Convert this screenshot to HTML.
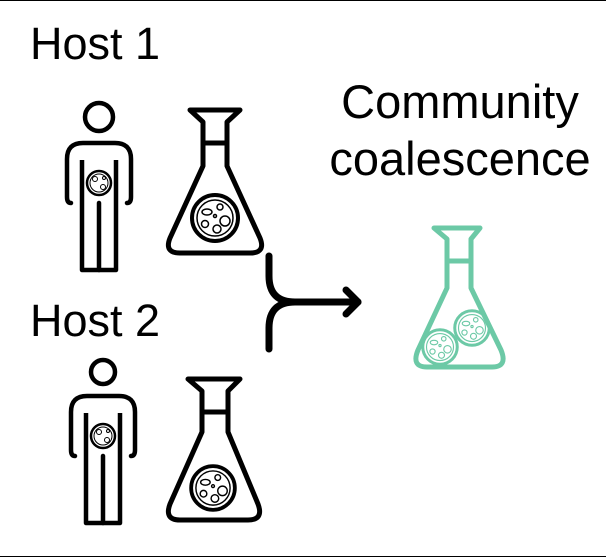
<!DOCTYPE html>
<html><head><style>
html,body{margin:0;padding:0;background:#fff;}
svg{display:block;}
text{font-family:"Liberation Sans",sans-serif;fill:#000;}
</style></head><body>
<svg width="606" height="558" viewBox="0 0 606 558" xmlns="http://www.w3.org/2000/svg">
<line x1="0" y1="0.5" x2="606" y2="0.5" stroke="#000" stroke-width="1"/>
<line x1="0" y1="556.5" x2="606" y2="556.5" stroke="#000" stroke-width="1"/>
<defs>
<g id="body" fill="none" stroke="#000" stroke-width="4.5" stroke-linecap="round" stroke-linejoin="round">
  <path d="M -28,86 Q -32,86 -32,80 L -32,42 Q -32,26 -16,26 L 16,26 Q 32,26 32,42 L 32,80 Q 32,86 28,86"/>
  <path d="M -17,43 L -17,153 L 17,153 L 17,43" stroke-linecap="butt"/>
  <path d="M 0,86 L 0,153"/>
  <circle cx="0" cy="66" r="12" stroke-width="2.5"/>
  <circle cx="0" cy="66" r="9" stroke-width="1"/>
  <circle cx="-4" cy="62" r="2.5" stroke-width="1"/>
  <circle cx="4" cy="70" r="2.5" stroke-width="1"/>
  <circle cx="5" cy="61" r="1.5" stroke-width="1"/>
</g>
<g id="culture" fill="none" stroke-linecap="round">
  <circle cx="0" cy="0" r="23" stroke-width="4"/>
  <circle cx="0" cy="0" r="18" stroke-width="1.5"/>
  <ellipse cx="-8" cy="-6" rx="5" ry="3" stroke-width="1.5"/>
  <circle cx="5" cy="-11" r="3" stroke-width="1.5"/>
  <circle cx="-10" cy="6" r="3.5" stroke-width="1.5"/>
  <circle cx="10" cy="3" r="5" stroke-width="1.5"/>
  <circle cx="2" cy="11" r="4" stroke-width="1.5"/>
  <circle cx="0" cy="-2" r="1.5" stroke-width="1.5"/>
</g>
</defs>

<text x="30" y="59" font-size="45">Host 1</text>
<text x="30" y="336" font-size="45">Host 2</text>
<text x="460" y="118" text-anchor="middle" font-size="47">Community</text>
<text x="460" y="175" text-anchor="middle" font-size="47">coalescence</text>

<circle cx="99" cy="117" r="14" fill="none" stroke="#000" stroke-width="4.5"/>
<use href="#body" transform="translate(99,117)"/>
<circle cx="103" cy="372" r="12" fill="none" stroke="#000" stroke-width="4.5"/>
<use href="#body" transform="translate(103,370)"/>

<!-- flask 1 -->
<g fill="none" stroke="#000" stroke-width="5" stroke-linejoin="round">
  <path d="M 190,110 L 240,110 L 227,122 L 227,166 L 260,238 Q 266,253 250,253 L 180,253 Q 164,253 170,238 L 203,166 L 203,122 Z"/>
  <line x1="203" y1="143" x2="227" y2="143"/>
</g>
<g stroke="#000"><use href="#culture" transform="translate(215,218)"/></g>

<!-- flask 2 -->
<g fill="none" stroke="#000" stroke-width="5" stroke-linejoin="round">
  <path d="M 188,379 L 240,379 L 228,391 L 228,432 L 258,504 Q 264,520 248,520 L 180,520 Q 164,520 170,504 L 202,432 L 202,391 Z"/>
  <line x1="202" y1="412" x2="228" y2="412"/>
</g>
<g stroke="#000"><use href="#culture" transform="translate(213,488) scale(0.95)"/></g>

<!-- arrow -->
<g fill="none" stroke="#000" stroke-width="7" stroke-linecap="round" stroke-linejoin="round">
  <path d="M 269,256 L 269,276 Q 269,302 295,302 L 358,302"/>
  <path d="M 295,302 Q 269,302 269,328 L 269,349"/>
  <path d="M 346,290 L 358,302 L 346,314"/>
</g>

<!-- green flask -->
<g fill="none" stroke="#6cc9a6" stroke-width="5" stroke-linejoin="round">
  <path d="M 434,228 L 480,228 L 471,239 L 471,288 L 501,350 Q 508,367 492,367 L 427,367 Q 411,367 418,350 L 447,288 L 447,239 Z"/>
  <line x1="447" y1="261" x2="471" y2="261"/>
</g>
<g stroke="#6cc9a6"><use href="#culture" transform="translate(472,328) scale(0.75)"/><use href="#culture" transform="translate(440,347) scale(0.75)"/></g>
</svg>
</body></html>
